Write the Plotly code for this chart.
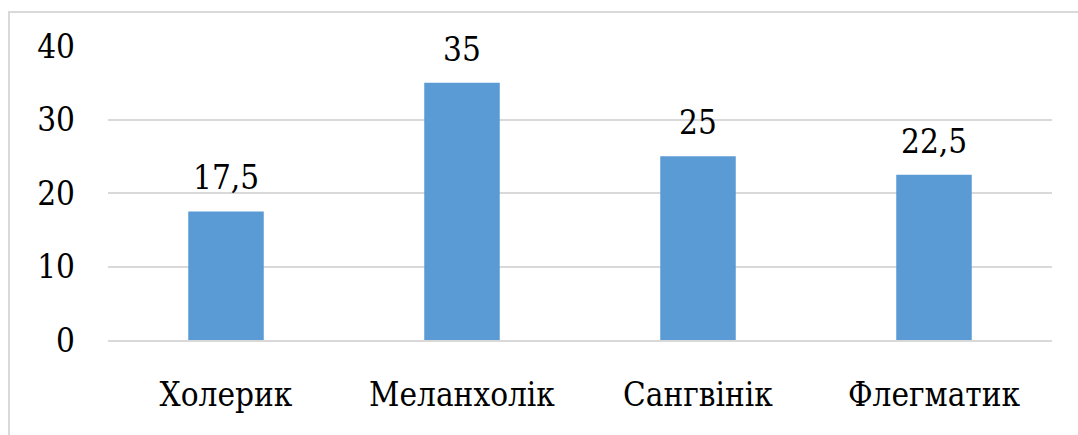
import plotly.graph_objects as go

categories = ["Холерик", "Меланхолік", "Сангвінік", "Флегматик"]
values = [17.5, 35, 25, 22.5]
value_labels = ["17,5", "35", "25", "22,5"]
y_ticks = [0, 10, 20, 30, 40]

FONT = "DejaVu Serif Condensed, DejaVu Serif"
FS = 33

fig = go.Figure(
    go.Bar(
        x=categories,
        y=values,
        marker=dict(color="#5B9BD5", line=dict(width=0)),
        cliponaxis=False,
        width=0.32,
        hoverinfo="skip",
    )
)

for cat, val, lab in zip(categories, values, value_labels):
    fig.add_annotation(
        x=cat, y=val, text=lab, showarrow=False,
        yanchor="bottom", yshift=12,
        font=dict(family=FONT, size=FS, color="#000000"),
    )

W, H = 1078, 435
L, R, T, B = 108, 26, 46, 95
pw, ph = W - L - R, H - T - B

def px_x(px):
    return (px - L) / pw

def px_y(py):
    return (H - B - py) / ph

fig.update_layout(
    width=W,
    height=H,
    margin=dict(l=L, r=R, t=T, b=B, autoexpand=False),
    paper_bgcolor="white",
    plot_bgcolor="white",
    showlegend=False,
    font=dict(family=FONT, size=FS, color="#000000"),
    xaxis=dict(
        automargin=False,
        showgrid=False,
        showline=True,
        linecolor="#D9D9D9",
        linewidth=2,
        ticks="",
        ticklabelstandoff=24,
        tickfont=dict(family=FONT, size=FS, color="#000000"),
    ),
    yaxis=dict(
        automargin=False,
        range=[0, 40],
        tickvals=y_ticks,
        showgrid=True,
        gridcolor="#D9D9D9",
        gridwidth=2,
        zeroline=False,
        showline=False,
        ticks="",
        ticklabelstandoff=32,
        tickfont=dict(family=FONT, size=FS, color="#000000"),
    ),
    shapes=[
        dict(
            type="rect",
            xref="paper",
            yref="paper",
            x0=px_x(9),
            x1=px_x(1100),
            y0=px_y(460),
            y1=px_y(12),
            line=dict(color="#D9D9D9", width=2),
            fillcolor="rgba(0,0,0,0)",
            layer="below",
        )
    ],
)

fig.write_html(
    "out.html",
    config={"displayModeBar": False},
    post_script="document.body.style.margin='0';",
)
